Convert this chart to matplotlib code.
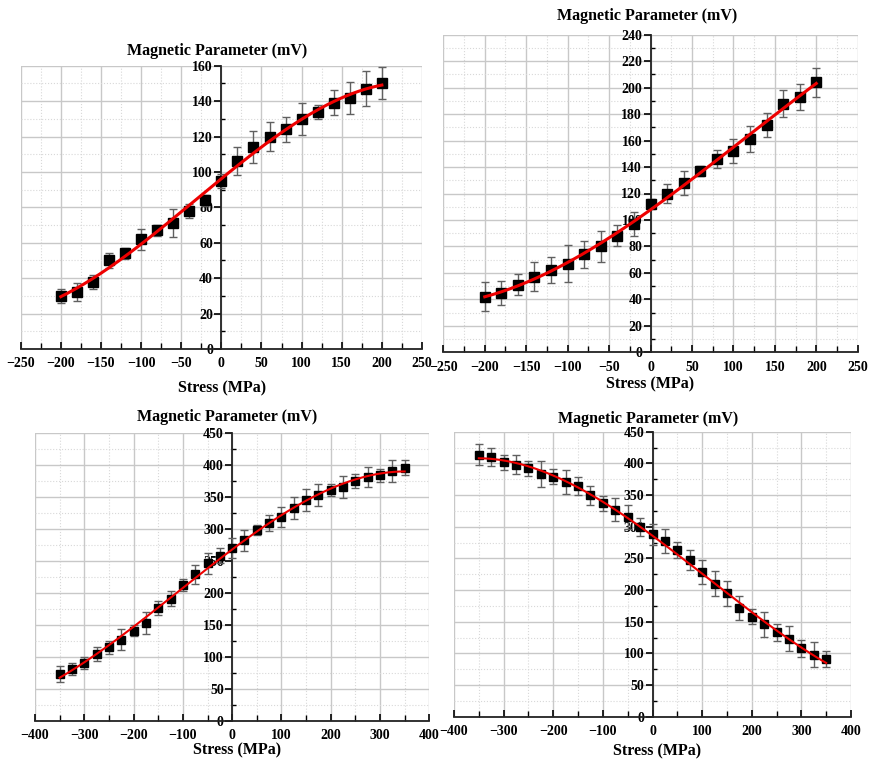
import numpy as np
import matplotlib
matplotlib.use("Agg")
import matplotlib.pyplot as plt
from matplotlib.ticker import MultipleLocator

plt.rcParams["font.family"] = ["Liberation Serif", "DejaVu Serif"]
plt.rcParams["font.weight"] = "bold"

# ---- data ----
stress_a = [-200, -180, -160, -140, -120, -100, -80, -60, -40, -20, 0,
            20, 40, 60, 80, 100, 120, 140, 160, 180, 200]
mag_a = [30, 32, 38, 50, 54, 62, 67, 71, 78, 84, 95,
         106, 114, 120, 124, 130, 134, 139, 142, 147, 150]
err_a = [4, 5, 4, 4, 3, 6, 3, 8, 4, 3, 4,
         8, 9, 8, 7, 9, 4, 7, 9, 10, 9]

stress_b = stress_a
mag_b = [42, 45, 51, 57, 62, 67, 74, 80, 88, 97, 112,
         120, 128, 137, 146, 152, 161, 172, 188, 193, 204]
err_b = [11, 9, 8, 11, 10, 14, 10, 12, 8, 9, 4,
         7, 9, 4, 7, 9, 10, 9, 10, 10, 11]

stress_c = [-350, -325, -300, -275, -250, -225, -200, -175, -150, -125, -100,
            -75, -50, -25, 0, 25, 50, 75, 100, 125, 150, 175, 200, 225, 250,
            275, 300, 325, 350]
mag_c = [73, 81, 90, 105, 115, 127, 141, 153, 177, 191, 212,
         229, 246, 258, 270, 282, 298, 309, 319, 333, 345, 353, 361, 365, 375,
         381, 384, 391, 396]
err_c = [12, 10, 9, 11, 10, 16, 9, 17, 11, 12, 9,
         15, 17, 12, 15, 17, 8, 13, 16, 17, 17, 17, 10, 17, 11,
         16, 10, 17, 12]

stress_d = stress_c
mag_d = [414, 410, 402, 398, 392, 383, 379, 371, 364, 350, 337,
         327, 315, 300, 288, 277, 263, 247, 229, 210, 195, 172, 158, 146, 133,
         123, 108, 98, 91]
err_d = [16, 14, 12, 15, 12, 20, 12, 19, 14, 15, 12,
         18, 19, 14, 17, 19, 13, 16, 19, 20, 20, 19, 12, 20, 14,
         20, 13, 20, 13]

TITLE = "Magnetic Parameter (mV)"
XLABEL = "Stress (MPa)"

W, H = 869, 761
fig = plt.figure(figsize=(W / 100, H / 100), dpi=100)


def px_rect(x0, x1, y_top, y_bot):
    return [x0 / W, 1 - y_bot / H, (x1 - x0) / W, (y_bot - y_top) / H]


def panel(rect, x, y, err, xlim, xmaj, xmin, ylim, ymaj, ymin,
          title_pos, label_pos, ms, lw):
    ax = fig.add_axes(rect)
    ax.set_xlim(*xlim)
    ax.set_ylim(*ylim)
    for side in ("top", "right"):
        ax.spines[side].set_visible(False)
    ax.spines["left"].set_position(("data", 0))
    ax.spines["bottom"].set_position(("data", 0))
    for side in ("left", "bottom"):
        ax.spines[side].set_linewidth(1.3)
        ax.spines[side].set_color("#222222")
    ax.xaxis.set_major_locator(MultipleLocator(xmaj))
    ax.xaxis.set_minor_locator(MultipleLocator(xmin))
    ax.yaxis.set_major_locator(MultipleLocator(ymaj))
    ax.yaxis.set_minor_locator(MultipleLocator(ymin))
    ax.tick_params(axis="x", which="major", direction="in", length=5,
                   width=1.2, labelsize=10, pad=6)
    ax.tick_params(axis="x", which="minor", direction="in", length=4, width=1.0)
    ax.tick_params(axis="y", which="major", direction="out", length=5,
                   width=1.2, labelsize=10, pad=1)
    ax.tick_params(axis="y", which="minor", direction="in", length=3, width=1.0)
    ax.grid(which="major", color="#c8c8c8", linewidth=1.0, linestyle="-")
    ax.grid(which="minor", color="#d8d8d8", linewidth=0.8, linestyle=":")
    ax.set_axisbelow(True)
    for lab in ax.get_xticklabels() + ax.get_yticklabels():
        lab.set_fontweight("bold")

    ax.errorbar(x, y, yerr=err, fmt="s", color="black", markersize=ms,
                ecolor="#606060", elinewidth=1.0, capsize=3, capthick=1.0,
                zorder=3)
    coef = np.polyfit(x, y, 3)
    xf = np.linspace(min(x), max(x), 200)
    ax.plot(xf, np.polyval(coef, xf), color="#ee0000", linewidth=lw, zorder=4)

    fig.text(title_pos[0] / W, 1 - title_pos[1] / H, TITLE, ha="center",
             va="center", fontsize=11.5, fontweight="bold")
    fig.text(label_pos[0] / W, 1 - label_pos[1] / H, XLABEL, ha="center",
             va="center", fontsize=11.5, fontweight="bold")
    return ax


panel(px_rect(20.7, 422, 65.7, 349), stress_a, mag_a, err_a,
      (-250, 250), 50, 25, (0, 160), 20, 10, (217, 51), (222, 388), 7, 2.2)
panel(px_rect(443.3, 857.7, 34.7, 352.3), stress_b, mag_b, err_b,
      (-250, 250), 50, 25, (0, 240), 20, 10, (647, 16), (650, 384), 7, 2.2)
panel(px_rect(35, 429.3, 433, 720.7), stress_c, mag_c, err_c,
      (-400, 400), 100, 50, (0, 450), 50, 25, (227, 417), (237, 750), 6, 1.5)
panel(px_rect(454, 851, 431.7, 716.7), stress_d, mag_d, err_d,
      (-400, 400), 100, 50, (0, 450), 50, 25, (648, 419), (657, 751), 6, 1.5)

fig.savefig("out.png", dpi=100, facecolor="white")
